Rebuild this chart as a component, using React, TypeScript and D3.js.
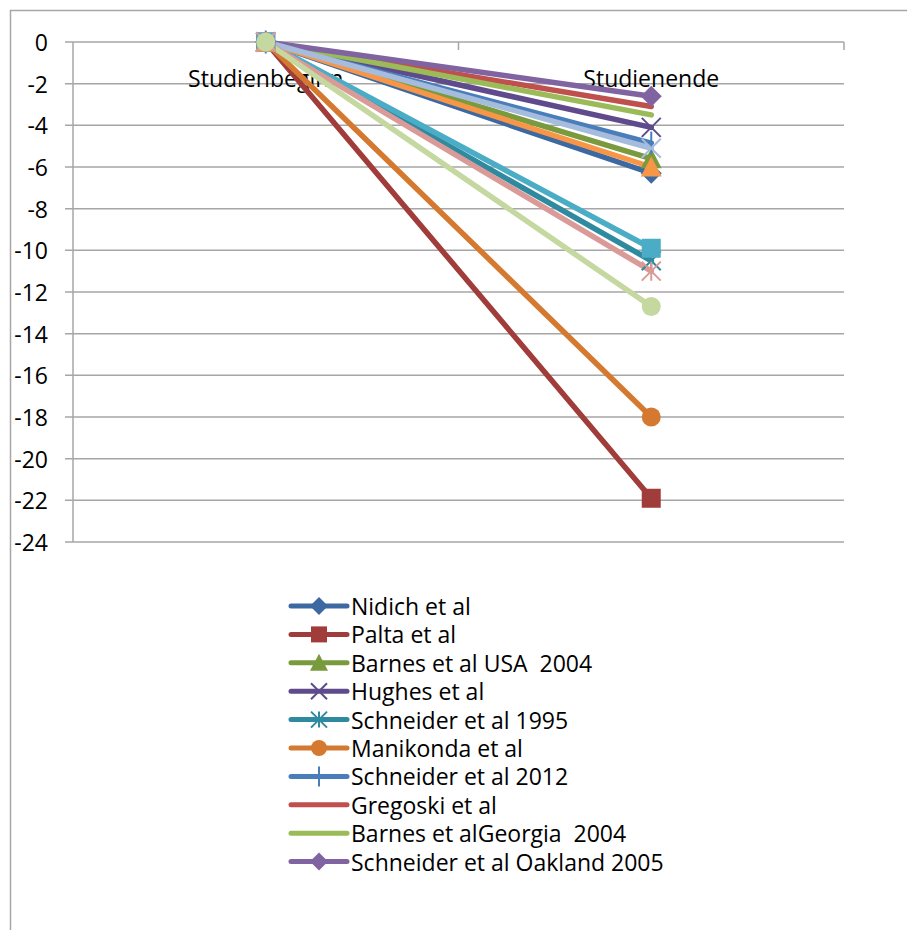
import React from "react";
import * as d3 from "d3";

// Blood-pressure change per study, from study start to study end
const categories = ["Studienbeginn", "Studienende"];

const seriesNames = [
  "Nidich et al",
  "Palta et al",
  "Barnes et al USA  2004",
  "Hughes et al",
  "Schneider et al 1995",
  "Manikonda et al",
  "Schneider et al 2012",
  "Gregoski et al",
  "Barnes et alGeorgia  2004",
  "Schneider et al Oakland 2005",
  "",
  "",
  "",
  "",
  "",
];

const startValues = [0, 0, 0, 0, 0, 0, 0, 0, 0, 0, 0, 0, 0, 0, 0];
const endValues = [-6.3, -21.9, -5.6, -4.1, -10.5, -18, -4.85, -3.1, -3.5, -2.6, -9.9, -6.0, -5.1, -11.0, -12.7];

const seriesColors = [
  "#3D69A3", "#A03D3A", "#7A9A3E", "#5F4A8C", "#2F8AA0", "#D4792F", "#4A7EBB",
  "#C0504D", "#9BBB59", "#8064A2", "#4BACC6", "#F79646", "#A5BCDD", "#DA9A98", "#C5D8A0",
];

const seriesMarkers = [
  "diamond", "square", "triangle", "x", "star", "circle", "plus",
  "none", "none", "diamond", "square", "triangle", "x", "star", "circle",
];

const yTicks = [0, -2, -4, -6, -8, -10, -12, -14, -16, -18, -20, -22, -24];

const FONT = "'Open Sans', 'Noto Sans', sans-serif";
const FONT_SIZE = 23;

function Marker({ kind, x, y, color, size }: { kind: string; x: number; y: number; color: string; size: number }) {
  const h = size / 2;
  switch (kind) {
    case "diamond":
      return <path d={`M${x},${y - h - 1}L${x + h + 1},${y}L${x},${y + h + 1}L${x - h - 1},${y}Z`} fill={color} />;
    case "square":
      return <rect x={x - h} y={y - h} width={size} height={size} fill={color} />;
    case "triangle":
      return <path d={`M${x},${y - h - 1}L${x + h + 1},${y + h}L${x - h - 1},${y + h}Z`} fill={color} />;
    case "circle":
      return <circle cx={x} cy={y} r={h} fill={color} />;
    case "x":
      return (
        <path d={`M${x - h},${y - h}L${x + h},${y + h}M${x + h},${y - h}L${x - h},${y + h}`} stroke={color} strokeWidth={2} />
      );
    case "star":
      return (
        <path
          d={`M${x - h},${y - h}L${x + h},${y + h}M${x + h},${y - h}L${x - h},${y + h}M${x},${y - h}L${x},${y + h}`}
          stroke={color}
          strokeWidth={2}
        />
      );
    case "plus":
      return <path d={`M${x},${y - h - 2}L${x},${y + h + 2}`} stroke={color} strokeWidth={2} />;
    default:
      return null;
  }
}

export default function App() {
  const width = 907;
  const height = 930;
  const plotLeft = 73;
  const plotRight = 844;
  const plotTop = 42;
  const plotBottom = 542;

  const x = d3.scaleBand<string>().domain(categories).range([plotLeft, plotRight]);
  const y = d3.scaleLinear().domain([-24, 0]).range([plotBottom, plotTop]);
  const cx = (c: string) => (x(c) as number) + x.bandwidth() / 2;

  const line = d3
    .line<{ c: string; v: number }>()
    .x((d) => cx(d.c))
    .y((d) => y(d.v));

  const series = seriesNames.map((name, i) => ({
    name,
    color: seriesColors[i],
    marker: seriesMarkers[i],
    points: [
      { c: categories[0], v: startValues[i] },
      { c: categories[1], v: endValues[i] },
    ],
  }));

  const legendX = 291;
  const legendY = 606;
  const legendStep = 28.4;
  const legendItems = series.filter((s) => s.name !== "");

  const grid = "#A6A6A6";

  return (
    <svg width={width} height={height} style={{ display: "block", position: "absolute", left: 0, top: 0 }}>
      <rect x={0} y={0} width={width} height={height} fill="#fff" />
      {/* chart frame */}
      <path d={`M10.5,${height}L10.5,10.5L${width},10.5`} fill="none" stroke="#A6A6A6" strokeWidth={1.5} />

      {/* horizontal gridlines */}
      {yTicks.map((t) => (
        <line key={t} x1={plotLeft - 8} x2={plotRight} y1={y(t)} y2={y(t)} stroke={grid} strokeWidth={1.5} />
      ))}
      {/* y axis */}
      <line x1={plotLeft} x2={plotLeft} y1={plotTop} y2={plotBottom} stroke={grid} strokeWidth={1.5} />
      {yTicks.map((t) => (
        <text
          key={"l" + t}
          x={48}
          y={y(t)}
          textAnchor="end"
          dominantBaseline="central"
          fontFamily={FONT}
          fontSize={FONT_SIZE}
          fill="#000"
        >
          {t}
        </text>
      ))}
      {/* category axis ticks at the zero line */}
      {[plotLeft + x.step(), plotRight].map((tx) => (
        <line key={tx} x1={tx} x2={tx} y1={plotTop} y2={plotTop + 8} stroke={grid} strokeWidth={1.5} />
      ))}
      {categories.map((c) => (
        <text key={c} x={cx(c)} y={78} textAnchor="middle" dominantBaseline="central" fontFamily={FONT} fontSize={FONT_SIZE}>
          {c}
        </text>
      ))}

      {/* series lines */}
      {series.map((s, i) => (
        <path key={"p" + i} d={line(s.points) as string} fill="none" stroke={s.color} strokeWidth={5.5} strokeLinecap="round" />
      ))}
      {series.map((s, i) =>
        s.points.map((p, j) => (
          <Marker key={`m${i}-${j}`} kind={s.marker} x={cx(p.c)} y={y(p.v)} color={s.color} size={19} />
        ))
      )}

      {/* legend */}
      {legendItems.map((s, i) => {
        const ly = legendY + i * legendStep;
        return (
          <g key={"lg" + i}>
            <line x1={legendX} x2={legendX + 56} y1={ly} y2={ly} stroke={s.color} strokeWidth={5} strokeLinecap="round" />
            <Marker kind={s.marker} x={legendX + 28} y={ly} color={s.color} size={16} />
            <text
              x={legendX + 60}
              y={ly}
              dominantBaseline="central"
              fontFamily={FONT}
              fontSize={FONT_SIZE}
              style={{ whiteSpace: "pre" }}
            >
              {s.name}
            </text>
          </g>
        );
      })}
    </svg>
  );
}
